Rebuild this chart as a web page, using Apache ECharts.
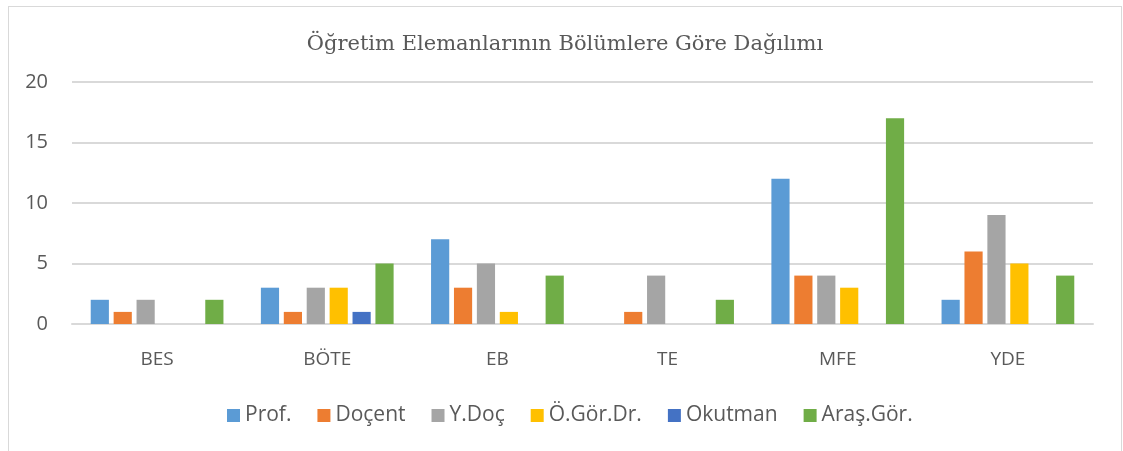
<!DOCTYPE html>
<html>
<head>
<meta charset="utf-8">
<script src="https://cdn.jsdelivr.net/npm/echarts@6/dist/echarts.min.js"></script>
<style>
    body { margin: 0; background: #ffffff; }
    #frame { position: absolute; left: 8px; top: 6px; width: 1112px; height: 460px; border: 1px solid #d9d9d9; }
    #chart { position: absolute; left: 0; top: 0; width: 1123px; height: 451px; }
</style>
</head>
<body>
<div id="frame"></div>
<div id="chart"></div>
<script>
    var categories = ['BES', 'BÖTE', 'EB', 'TE', 'MFE', 'YDE'];
    var seriesNames = ['Prof.', 'Doçent', 'Y.Doç', 'Ö.Gör.Dr.', 'Okutman', 'Araş.Gör.'];
    var prof = [2, 3, 7, 0, 12, 2];
    var docent = [1, 1, 3, 1, 4, 6];
    var yDoc = [2, 3, 5, 4, 4, 9];
    var ogrDr = [0, 3, 1, 0, 3, 5];
    var okutman = [0, 1, 0, 0, 0, 0];
    var arasGor = [2, 5, 4, 2, 17, 4];
    var colors = ['#5b9bd5', '#ed7d31', '#a5a5a5', '#ffc000', '#4472c4', '#70ad47'];

    var values = [prof, docent, yDoc, ogrDr, okutman, arasGor];
    var series = [];
    for (var i = 0; i < seriesNames.length; i++) {
        series.push({
            name: seriesNames[i],
            type: 'bar',
            data: values[i],
            barGap: '26%',
            barCategoryGap: '22%',
            itemStyle: { color: colors[i] }
        });
    }

    var chart = echarts.init(document.getElementById('chart'));
    chart.setOption({
        animation: false,
        color: colors,
        title: {
            text: 'Öğretim Elemanlarının Bölümlere Göre Dağılımı',
            left: 565,
            top: 34,
            padding: 0,
            textAlign: 'center',
            textStyle: {
                fontFamily: 'DejaVu Serif',
                fontSize: 21,
                fontWeight: 'normal',
                color: '#595959'
            }
        },
        legend: {
            left: 227,
            top: 405,
            padding: 0,
            itemWidth: 13,
            itemHeight: 13,
            itemGap: 26,
            icon: 'rect',
            textStyle: { fontFamily: 'Open Sans', fontSize: 21, color: '#595959' }
        },
        grid: { left: 72, right: 30, top: 82, bottom: 127 },
        xAxis: {
            type: 'category',
            data: categories,
            axisLine: { lineStyle: { color: '#d9d9d9', width: 2 } },
            axisTick: { show: false },
            axisLabel: { fontFamily: 'Open Sans', fontSize: 19, color: '#595959', margin: 26 }
        },
        yAxis: {
            type: 'value',
            min: 0,
            max: 20,
            interval: 5,
            axisLine: { show: false },
            axisTick: { show: false },
            splitLine: { lineStyle: { color: '#d9d9d9', width: 2 } },
            axisLabel: { fontFamily: 'Open Sans', fontSize: 20, color: '#595959', margin: 24 }
        },
        series: series
    });
</script>
</body>
</html>
